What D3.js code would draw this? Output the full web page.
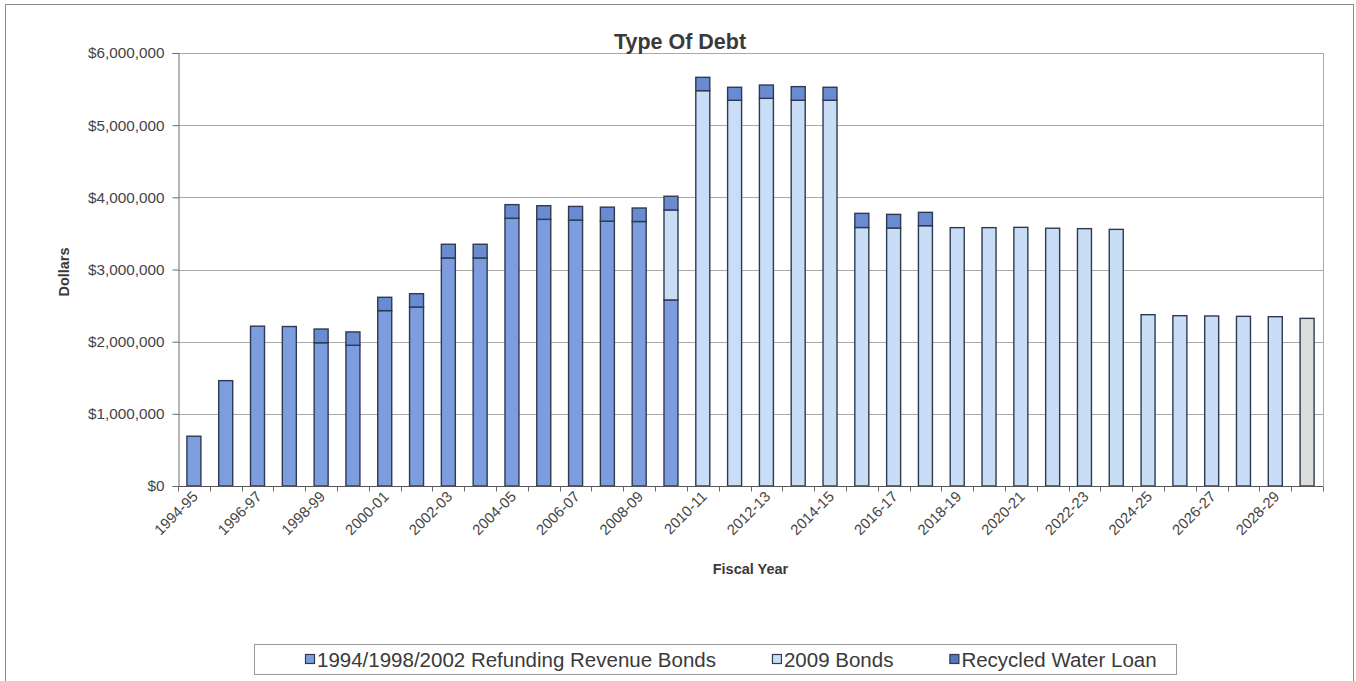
<!DOCTYPE html>
<html>
<head>
<meta charset="utf-8">
<script src="https://cdn.jsdelivr.net/npm/d3@7"></script>
<style>
  body { margin: 0; background: #ffffff; }
  svg { display: block; font-family: "Liberation Sans", Arial, Helvetica, sans-serif; }
</style>
</head>
<body>
<svg id="chart" width="1356" height="681"></svg>
<script>
// Fiscal years on the x axis
const fiscalYears = [
  "1994-95","1995-96","1996-97","1997-98","1998-99","1999-00","2000-01","2001-02",
  "2002-03","2003-04","2004-05","2005-06","2006-07","2007-08","2008-09","2009-10",
  "2010-11","2011-12","2012-13","2013-14","2014-15","2015-16","2016-17","2017-18",
  "2018-19","2019-20","2020-21","2021-22","2022-23","2023-24","2024-25","2025-26",
  "2026-27","2027-28","2028-29","2029-30"
];

// Annual debt service by type (dollars)
const refundingBonds = [
  690000, 1460000, 2215000, 2210000, 1985000, 1950000, 2430000, 2480000,
  3160000, 3160000, 3710000, 3695000, 3685000, 3670000, 3665000, 2578000,
  0, 0, 0, 0, 0, 0, 0, 0, 0, 0, 0, 0, 0, 0, 0, 0, 0, 0, 0, 0
];
const bonds2009 = [
  0, 0, 0, 0, 0, 0, 0, 0, 0, 0, 0, 0, 0, 0, 0, 1247000,
  5478000, 5345000, 5372000, 5345000, 5345000, 3582000, 3575000, 3607000,
  3580000, 3580000, 3584000, 3572000, 3566000, 3556000, 2374000, 2360000,
  2356000, 2351000, 2346000, 2323000
];
const recycledWaterLoan = [
  0, 0, 0, 0, 190000, 185000, 185000, 185000, 190000, 190000, 189000, 189000,
  189000, 194000, 187000, 190000, 185000, 180000, 184000, 189000, 180000, 196000,
  189000, 185000, 0, 0, 0, 0, 0, 0, 0, 0, 0, 0, 0, 0
];

const seriesNames = ["1994/1998/2002 Refunding Revenue Bonds", "2009 Bonds", "Recycled Water Loan"];
const seriesColors = ["#7e9ddf", "#c9ddf6", "#6a8bd2"];
const legendSwatchColors = ["#7e9ddf", "#c9ddf6", "#5676bf"];
const yTickValues = [0, 1000000, 2000000, 3000000, 4000000, 5000000, 6000000];
// Years whose bar is shaded grey
const greyYears = ["2029-30"];
const greyFill = "#dcdcdc";

const chartTitle = "Type Of Debt";
const xTitle = "Fiscal Year";
const yTitle = "Dollars";

const svg = d3.select("#chart");
const margin = { left: 178, right: 33, top: 53, bottom: 195 };
const W = 1356, H = 681;
const plotRight = W - margin.right;
const plotBottom = H - margin.bottom;

// Outer chart frame
svg.append("rect")
  .attr("x", 5.5).attr("y", 4.5)
  .attr("width", 1348).attr("height", 700)
  .attr("fill", "#ffffff").attr("stroke", "#8c8c8c").attr("stroke-width", 1);

const x = d3.scaleBand().domain(fiscalYears).range([margin.left, plotRight]).padding(0);
const y = d3.scaleLinear().domain([0, 6000000]).range([plotBottom, margin.top]);

const rows = fiscalYears.map((fy, i) => ({
  year: fy,
  [seriesNames[0]]: refundingBonds[i],
  [seriesNames[1]]: bonds2009[i],
  [seriesNames[2]]: recycledWaterLoan[i]
}));
const stacked = d3.stack().keys(seriesNames)(rows);

// Horizontal gridlines
svg.append("g").selectAll("line")
  .data(yTickValues.filter(v => v > 0))
  .join("line")
  .attr("x1", margin.left).attr("x2", plotRight)
  .attr("y1", d => Math.round(y(d)) + 0.5).attr("y2", d => Math.round(y(d)) + 0.5)
  .attr("stroke", "#a9a9a9").attr("stroke-width", 1);

// Right edge of the plot area
svg.append("line")
  .attr("x1", plotRight + 0.5).attr("x2", plotRight + 0.5)
  .attr("y1", margin.top).attr("y2", plotBottom)
  .attr("stroke", "#a9a9a9");

// Stacked bars
const barW = x.bandwidth() * 0.44;
stacked.forEach((s, si) => {
  svg.append("g").selectAll("rect")
    .data(s.filter(d => d[1] - d[0] > 0))
    .join("rect")
    .attr("x", d => x(d.data.year) + (x.bandwidth() - barW) / 2)
    .attr("width", barW)
    .attr("y", d => y(d[1]))
    .attr("height", d => y(d[0]) - y(d[1]))
    .attr("fill", d => greyYears.includes(d.data.year) ? greyFill : seriesColors[si])
    .attr("stroke", "#2e3a52")
    .attr("stroke-width", 1.4);
});

// Y axis
const yAxis = d3.axisLeft(y)
  .tickValues(yTickValues)
  .tickSize(6)
  .tickPadding(8)
  .tickFormat(d => "$" + d3.format(",")(d));
const gy = svg.append("g")
  .attr("transform", `translate(${margin.left + 0.5},0)`)
  .call(yAxis);
gy.select(".domain").attr("stroke", "#6b6b6b");
gy.selectAll(".tick line").attr("stroke", "#6b6b6b");
gy.selectAll(".tick text")
  .attr("font-size", 15.3)
  .attr("fill", "#444444")
  .attr("font-family", "'Liberation Sans', Arial, sans-serif");

// X axis: ticks at category boundaries, labels on every other year
const gx = svg.append("g").attr("transform", `translate(0,${plotBottom + 0.5})`);
gx.append("line")
  .attr("x1", margin.left).attr("x2", plotRight)
  .attr("stroke", "#555555").attr("stroke-width", 1.2);
const boundaries = fiscalYears.map(fy => x(fy)).concat([plotRight]);
gx.selectAll("line.tick")
  .data(boundaries)
  .join("line")
  .attr("class", "tick")
  .attr("x1", d => Math.round(d) + 0.5).attr("x2", d => Math.round(d) + 0.5)
  .attr("y1", 0).attr("y2", 5)
  .attr("stroke", "#6b6b6b");
gx.selectAll("text")
  .data(fiscalYears.filter((fy, i) => i % 2 === 0))
  .join("text")
  .attr("transform", d => `translate(${x(d) + x.bandwidth() / 2 + 5},${11}) rotate(-45)`)
  .attr("text-anchor", "end")
  .attr("font-size", 14.8)
  .attr("fill", "#444444")
  .text(d => d);

// Titles
svg.append("text")
  .attr("x", 680).attr("y", 49)
  .attr("text-anchor", "middle")
  .attr("font-size", 21.5).attr("font-weight", "bold")
  .attr("fill", "#3a3a3a")
  .text(chartTitle);

svg.append("text")
  .attr("x", (margin.left + plotRight) / 2).attr("y", 574)
  .attr("text-anchor", "middle")
  .attr("font-size", 14.5).attr("font-weight", "bold")
  .attr("fill", "#3a3a3a")
  .text(xTitle);

svg.append("text")
  .attr("transform", `translate(69,272) rotate(-90)`)
  .attr("text-anchor", "middle")
  .attr("font-size", 14.5).attr("font-weight", "bold")
  .attr("fill", "#3a3a3a")
  .text(yTitle);

// Legend
const legend = svg.append("g");
legend.append("rect")
  .attr("x", 254.5).attr("y", 644.5)
  .attr("width", 922).attr("height", 30)
  .attr("fill", "#ffffff").attr("stroke", "#9a9a9a");
let lx = 305;
seriesNames.forEach((name, i) => {
  legend.append("rect")
    .attr("x", lx + 0.5).attr("y", 654.5)
    .attr("width", 9).attr("height", 9)
    .attr("fill", legendSwatchColors[i])
    .attr("stroke", "#2e3a52").attr("stroke-width", 1.2);
  const t = legend.append("text")
    .attr("x", lx + 12).attr("y", 666.5)
    .attr("font-size", 20.5)
    .attr("fill", "#3a3a3a")
    .text(name);
  lx += 12 + t.node().getComputedTextLength() + 56;
});
</script>
</body>
</html>
